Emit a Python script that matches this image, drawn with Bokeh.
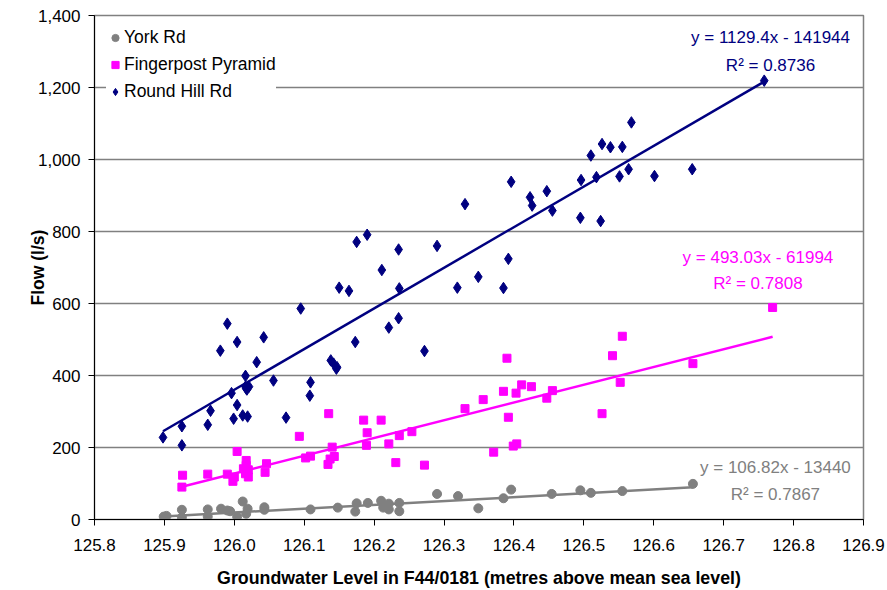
import numpy as np
from bokeh.plotting import figure
from bokeh.models import (FixedTicker, NumeralTickFormatter,
                          Range1d, Label, Legend, LegendItem)
from bokeh.embed import file_html
from bokeh.resources import INLINE

# ---------------- data ----------------
york_x = [125.899, 125.903, 125.925, 125.925, 125.962, 125.962, 125.981, 125.990,
          125.994, 126.004, 126.012, 126.017, 126.019, 126.043, 126.043, 126.109,
          126.148, 126.173, 126.175, 126.191, 126.210, 126.213, 126.221, 126.221,
          126.236, 126.236, 126.290, 126.320, 126.349, 126.385, 126.396, 126.454,
          126.495, 126.510, 126.555, 126.656]
york_y = [8, 10, 27, 6, 28, 8, 30, 25,
          23, 8, 50, 16, 30, 34, 27, 28,
          33, 22, 45, 46, 52, 33, 44, 28,
          46, 23, 71, 65, 31, 59, 83, 71,
          81, 74, 79, 99]

finger_x = [125.925, 125.926, 125.962, 125.990, 125.998, 126.000, 126.004, 126.017,
            126.017, 126.013, 126.020, 126.020, 126.016, 126.044, 126.046, 126.093,
            126.102, 126.109, 126.135, 126.134, 126.137, 126.143, 126.140, 126.185,
            126.190, 126.189, 126.210, 126.221, 126.231, 126.236, 126.254, 126.272,
            126.330, 126.356, 126.371, 126.385, 126.390, 126.392, 126.399, 126.404,
            126.403, 126.411, 126.425, 126.447, 126.455, 126.526, 126.541, 126.552,
            126.555, 126.656, 126.770]
finger_y = [90, 123, 126, 126, 106, 118, 189, 164,
            150, 141, 138, 118, 127, 131, 155, 231,
            171, 176, 294, 153, 168, 175, 201, 276,
            241, 206, 276, 210, 158, 233, 244, 151,
            308, 333, 187, 356, 448, 284, 204, 210,
            351, 374, 369, 337, 358, 294, 455, 381,
            509, 433, 589]

round_x = [125.898, 125.925, 125.925, 125.962, 125.966, 125.980, 125.990, 126.004,
           125.996, 126.004, 125.999, 126.012, 126.019, 126.016, 126.016, 126.018,
           126.021, 126.017, 126.032, 126.042, 126.056, 126.074, 126.095, 126.109,
           126.108, 126.138, 126.142, 126.146, 126.147, 126.150, 126.164, 126.173,
           126.175, 126.190, 126.211, 126.221, 126.235, 126.236, 126.235, 126.272,
           126.290, 126.319, 126.330, 126.349, 126.385, 126.392, 126.396, 126.423,
           126.426, 126.447, 126.455, 126.495, 126.496, 126.510, 126.518, 126.524,
           126.526, 126.538, 126.551, 126.555, 126.564, 126.568, 126.601, 126.655,
           126.758]
round_y = [228, 206, 259, 263, 302, 469, 544, 493,
           351, 318, 280, 289, 286, 399, 369, 361,
           369, 364, 437, 506, 386, 283, 586, 381,
           344, 442, 433, 419, 423, 644, 635, 493,
           771, 791, 693, 533, 750, 642, 559, 468,
           760, 644, 876, 674, 643, 724, 938, 895,
           872, 912, 858, 838, 943, 1011, 951, 829,
           1043, 1034, 953, 1035, 973, 1103, 954, 973,
           1219]

series_names = ["York Rd", "Fingerpost Pyramid", "Round Hill Rd"]
slopes = [106.82, 493.03, 1129.4]
intercepts = [-13440, -61994, -141944]
eq_texts = ["y = 106.82x - 13440", "y = 493.03x - 61994", "y = 1129.4x - 141944"]
r2_texts = ["R\u00b2 = 0.7867", "R\u00b2 = 0.7808", "R\u00b2 = 0.8736"]

x_ticks = [125.8, 125.9, 126.0, 126.1, 126.2, 126.3, 126.4, 126.5, 126.6, 126.7, 126.8, 126.9]
y_ticks = [0, 200, 400, 600, 800, 1000, 1200, 1400]

# ---------------- styling ----------------
FONT = "Liberation Sans"
colors = ["#808080", "#FF00FF", "#000080"]

p = figure(width=887, height=590, output_backend="svg", toolbar_location=None,
           x_range=Range1d(125.8, 126.9), y_range=Range1d(0, 1400),
           min_border_left=94, min_border_right=24, min_border_top=15,
           min_border_bottom=71)
p.background_fill_color = "white"
p.border_fill_color = "white"
p.outline_line_color = "#808080"
p.outline_line_width = 1.5

p.xgrid.visible = False
p.ygrid.grid_line_color = "#808080"
p.ygrid.grid_line_width = 1.5
p.ygrid.ticker = FixedTicker(ticks=y_ticks)

p.xaxis.ticker = FixedTicker(ticks=x_ticks)
p.yaxis.ticker = FixedTicker(ticks=y_ticks)
p.xaxis.formatter = NumeralTickFormatter(format="0.0")
p.yaxis.formatter = NumeralTickFormatter(format="0,0")
for ax in (p.xaxis[0], p.yaxis[0]):
    ax.axis_line_color = "black"
    ax.major_tick_line_color = "black"
    ax.minor_tick_line_color = None
    ax.major_tick_in = 0
    ax.major_tick_out = 6
    ax.major_label_text_font = FONT
    ax.major_label_text_font_size = "17px"
    ax.major_label_text_color = "black"
    ax.axis_label_text_font = FONT
    ax.axis_label_text_font_style = "bold"
    ax.axis_label_text_color = "black"

p.xaxis.axis_label = "Groundwater Level in F44/0181 (metres above mean sea level)"
p.xaxis.axis_label_text_font_size = "17.8px"
p.xaxis.major_label_standoff = 13
p.xaxis.axis_label_standoff = 14
p.yaxis.axis_label = "Flow (l/s)"
p.yaxis.axis_label_text_font_size = "17.5px"
p.yaxis.major_label_standoff = 8
p.yaxis.axis_label_standoff = -13

xs_all = [york_x, finger_x, round_x]
ys_all = [york_y, finger_y, round_y]

# trend lines
for i in range(3):
    xmin, xmax = min(xs_all[i]), max(xs_all[i])
    lx = [xmin, xmax]
    ly = [slopes[i] * v + intercepts[i] for v in lx]
    p.line(lx, ly, line_color=colors[i], line_width=2.5)

# scatter points
r_york = p.scatter(york_x, york_y, marker="circle", size=9,
                   fill_color=colors[0], line_color=colors[0])
r_finger = p.scatter(finger_x, finger_y, marker="square", size=8,
                     fill_color=colors[1], line_color=colors[1])
r_round = p.scatter(round_x, round_y, marker="diamond", size=11.5,
                    fill_color=colors[2], line_color=colors[2])

legend = Legend(items=[LegendItem(label=series_names[0], renderers=[r_york]),
                       LegendItem(label=series_names[1], renderers=[r_finger]),
                       LegendItem(label=series_names[2], renderers=[r_round])],
                location="top_left")
legend.margin = 12
legend.padding = 3
legend.spacing = 6
legend.border_line_color = None
legend.background_fill_color = "white"
legend.background_fill_alpha = 1.0
legend.label_text_font = FONT
legend.label_text_font_size = "17.5px"
legend.label_text_color = "black"
legend.label_height = 19
legend.glyph_height = 19
legend.glyph_width = 18
legend.label_standoff = 0
p.add_layout(legend)

# regression equation labels (data-space anchors)
eq_x = [126.774, 126.749, 126.767]
eq_y1 = [144, 728, 1339]
eq_y2 = [69, 656, 1260]
for i in range(3):
    for txt, yy in ((eq_texts[i], eq_y1[i]), (r2_texts[i], eq_y2[i])):
        p.add_layout(Label(x=eq_x[i], y=yy, text=txt, text_align="center",
                           text_baseline="middle", text_color=colors[i],
                           text_font=FONT, text_font_size="17px"))

open("out.html", "w").write(file_html(p, INLINE))
